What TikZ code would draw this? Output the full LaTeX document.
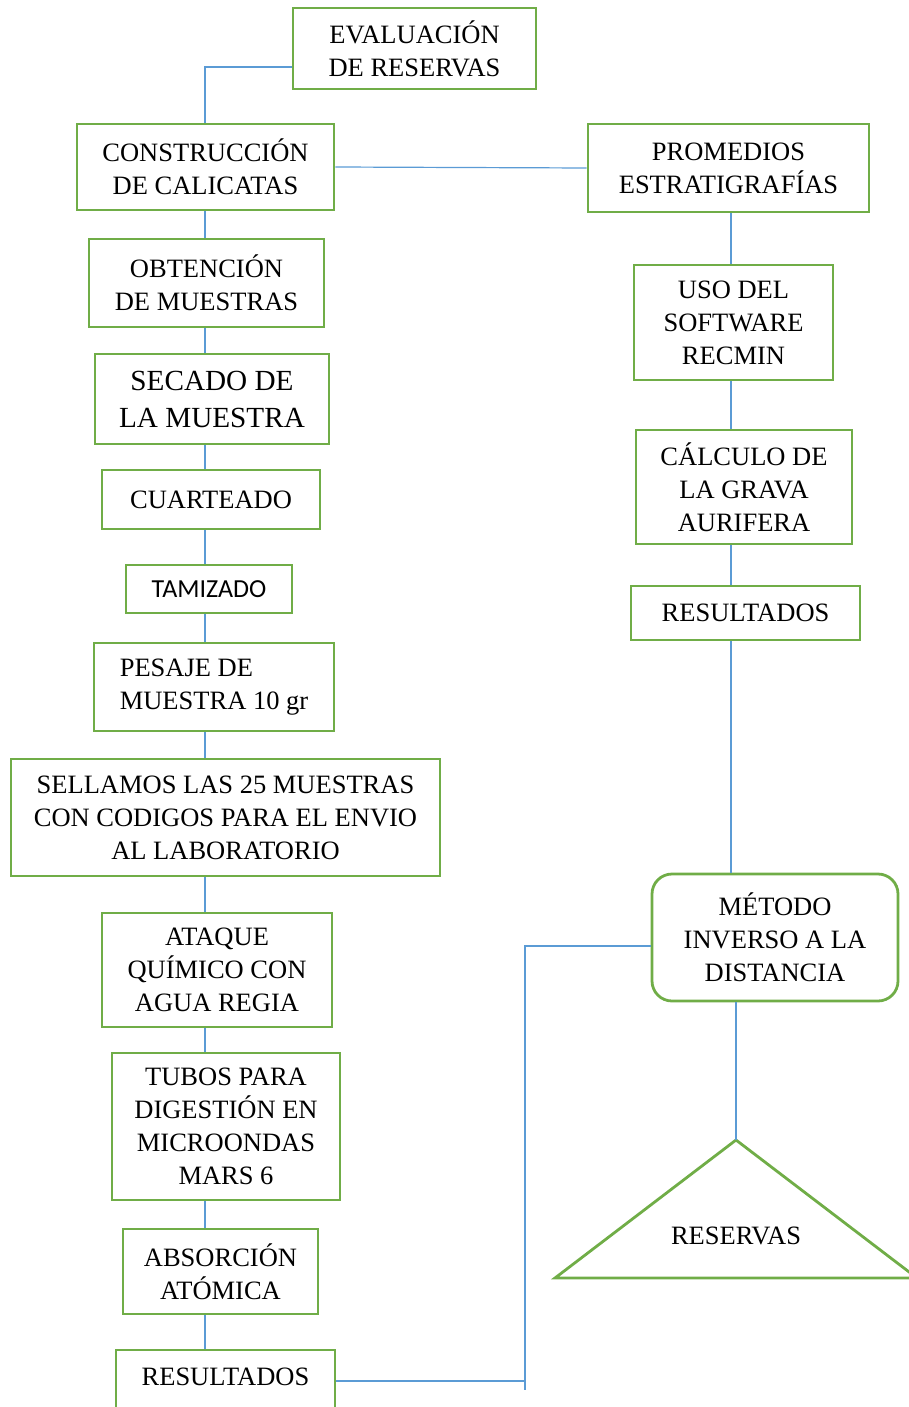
\documentclass[tikz,border=0pt]{standalone}
\usepackage{fontspec}
\setmainfont{Liberation Serif}
\newfontfamily\calibri{Carlito}
\definecolor{boxgreen}{HTML}{70AD47}
\definecolor{linkblue}{HTML}{5B9BD5}

\begin{document}
\begin{tikzpicture}[x=0.5pt,y=-0.5pt,
				main node/.style = {rectangle,draw=boxgreen,line width=1.4pt,align=center,inner sep=0pt,
					font=\fontsize{13.25}{16.5}\selectfont},
				px box/.style 2 args = {minimum width=#1*0.5pt,minimum height=#2*0.5pt},
				link/.style = {draw=linkblue,line width=0.6pt}]
				
				\useasboundingbox (0,0) rectangle (909,1407);
				\coordinate (lspine) at (205,0);
				\coordinate (rspine) at (731,0);
				
				% left column
				\node[main node,px box={243}{81}] (1) at (414.5,48.5) {EVALUACIÓN\\DE RESERVAS};
				\node[main node,px box={257}{86}] (2) at (205.5,167) {CONSTRUCCIÓN\\DE CALICATAS};
				\node[main node,px box={235}{88}] (4) at (206.5,283) {OBTENCIÓN\\DE MUESTRAS};
				\node[main node,px box={234}{90},font=\fontsize{14.6}{18.5}\selectfont] (5) at (212,399) {SECADO DE\\LA MUESTRA};
				\node[main node,px box={218}{59}] (6) at (211,499.5) {CUARTEADO};
				\node[main node,px box={166}{48},font=\calibri\fontsize{13}{16}\selectfont] (7) at (209,589) {TAMIZADO};
				\node[main node,px box={240}{88},align=left] (8) at (214,687) {PESAJE DE\\MUESTRA 10 gr};
				\node[main node,px box={429}{117}] (9) at (225.5,817.5) {SELLAMOS LAS 25 MUESTRAS\\CON CODIGOS PARA EL ENVIO\\AL LABORATORIO};
				\node[main node,px box={230}{114}] (10) at (217,970) {ATAQUE\\QUÍMICO CON\\AGUA REGIA};
				\node[main node,px box={228}{147}] (11) at (226,1126.5) {TUBOS PARA\\DIGESTIÓN EN\\MICROONDAS\\MARS 6};
				\node[main node,px box={195}{85}] (12) at (220.5,1271.5) {ABSORCIÓN\\ATÓMICA};
				\node[main node,px box={219}{66},text depth=6pt] (13) at (225.5,1383) {RESULTADOS};
				
				% right column
				\node[main node,px box={281}{88}] (3) at (728.5,168) {PROMEDIOS\\ESTRATIGRAFÍAS};
				\node[main node,px box={199}{115}] (14) at (733.5,322.5) {USO DEL\\SOFTWARE\\RECMIN};
				\node[main node,px box={216}{114}] (15) at (744,487) {CÁLCULO DE\\LA GRAVA\\AURIFERA};
				\node[main node,px box={229}{54}] (16) at (745.5,613) {RESULTADOS};
				\node[main node,px box={246}{127},rounded corners=10pt] (17) at (775,937.5) {MÉTODO\\INVERSO A LA\\DISTANCIA};
				\coordinate (apex) at (736,1140);
				\draw[boxgreen,line width=1.4pt] (apex) -- (917,1278) -- (555,1278) -- cycle;
				\node[font=\fontsize{13.25}{16.5}\selectfont] (18) at (736,1236) {RESERVAS};
				\coordinate (c) at (525,1390);
				
				\draw[link] (1.west |- 0,67) -| (2.north -| lspine);
				\draw[link] (2.east) -- (3.west);
				\draw[link] (2.south -| lspine) -- (4.north -| lspine) (4.south -| lspine) -- (5.north -| lspine)
					(5.south -| lspine) -- (6.north -| lspine) (6.south -| lspine) -- (7.north -| lspine)
					(7.south -| lspine) -- (8.north -| lspine) (8.south -| lspine) -- (9.north -| lspine)
					(9.south -| lspine) -- (10.north -| lspine) (10.south -| lspine) -- (11.north -| lspine)
					(11.south -| lspine) -- (12.north -| lspine) (12.south -| lspine) -- (13.north -| lspine);
				\draw[link] (3.south -| rspine) -- (14.north -| rspine) (14.south -| rspine) -- (15.north -| rspine)
					(15.south -| rspine) -- (16.north -| rspine) (16.south -| rspine) -- (17.north -| rspine)
					(17.south -| apex) -- (apex);
				\draw[link] (17.west |- 0,946) -| (c);
				\draw[link] (13.east |- 0,1381) -- (c |- 0,1381);
\end{tikzpicture}
\end{document}
